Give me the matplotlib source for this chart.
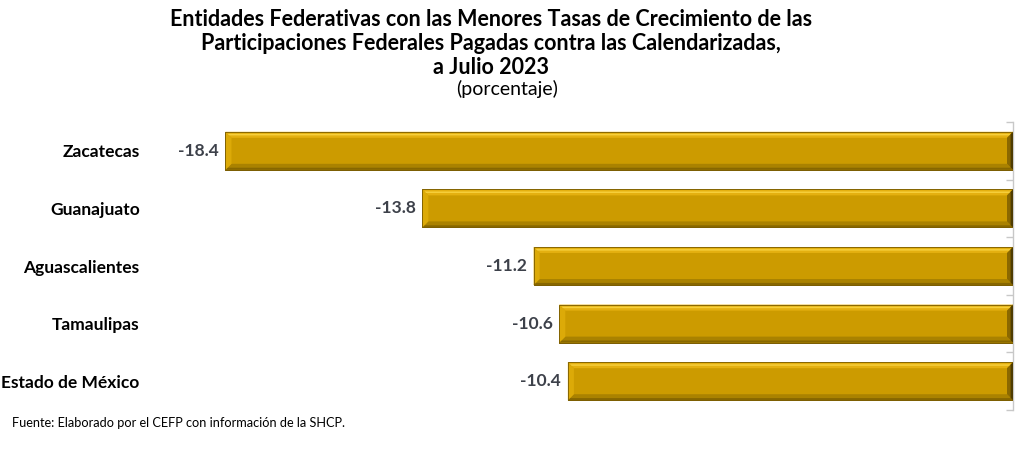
import matplotlib
matplotlib.use("Agg")
import matplotlib.pyplot as plt
from matplotlib.patches import Polygon
import numpy as np

categories = ["Zacatecas", "Guanajuato", "Aguascalientes", "Tamaulipas", "Estado de México"]
values = [-18.4, -13.8, -11.2, -10.6, -10.4]
value_labels = ["-18.4", "-13.8", "-11.2", "-10.6", "-10.4"]

title_lines = ["Entidades Federativas con las Menores Tasas de Crecimiento de las",
               "Participaciones Federales Pagadas contra las Calendarizadas,",
               "a Julio 2023"]
subtitle = "(porcentaje)"
source = "Fuente: Elaborado por el CEFP con información de la SHCP."

FONT = ["Lato", "DejaVu Sans"]
plt.rcParams["font.family"] = FONT

W, H = 1026, 473
fig = plt.figure(figsize=(W / 100, H / 100), dpi=100)
ax_left, ax_right, ax_top, ax_bot = 157, 1013, 122, 410
ax = fig.add_axes([ax_left / W, 1 - ax_bot / H, (ax_right - ax_left) / W, (ax_bot - ax_top) / H])

xmin, xmax = -20, 0
ax.set_xlim(xmin, xmax)
n = len(categories)
ax.set_ylim(n - 0.5, -0.5)
ypos = np.arange(n)
bar_h = 0.66

base = "#CC9B00"
bars = ax.barh(ypos, values, height=bar_h, color=base, edgecolor="#7A5C00", linewidth=0.6, zorder=2)

# bevel sizes in data units
px_x = (xmax - xmin) / (ax_right - ax_left)
px_y = n / (ax_bot - ax_top)
bev = 6
dx, dy = bev * px_x, bev * px_y
for rect in bars:
    x0 = rect.get_x()
    w = rect.get_width()
    xl, xr = min(x0, x0 + w), max(x0, x0 + w)
    yt = rect.get_y()
    yb = yt + rect.get_height()
    ax.add_patch(Polygon([(xl, yt), (xr, yt), (xr - dx, yt + dy), (xl + dx, yt + dy)],
                         closed=True, color="#E4B010", lw=0, zorder=3))
    ax.add_patch(Polygon([(xl + dx * 0.3, yt + dy * 0.35), (xr - dx * 0.3, yt + dy * 0.35),
                          (xr - dx * 0.55, yt + dy * 0.6), (xl + dx * 0.55, yt + dy * 0.6)],
                         closed=True, color="#F6CF3C", lw=0, zorder=3))
    ax.add_patch(Polygon([(xl, yb), (xr, yb), (xr - dx, yb - dy), (xl + dx, yb - dy)],
                         closed=True, color="#AA8200", lw=0, zorder=3))
    ax.add_patch(Polygon([(xl + dx * 0.3, yb - dy * 0.35), (xr - dx * 0.3, yb - dy * 0.35),
                          (xr, yb), (xl, yb)],
                         closed=True, color="#876700", lw=0, zorder=3))
    ax.add_patch(Polygon([(xl, yt), (xl + dx, yt + dy), (xl + dx, yb - dy), (xl, yb)],
                         closed=True, color="#DCAA08", lw=0, zorder=3))
    ax.add_patch(Polygon([(xr, yt), (xr - dx, yt + dy), (xr - dx, yb - dy), (xr, yb)],
                         closed=True, color="#8A6800", lw=0, zorder=3))
    ax.add_patch(Polygon([(xr, yt), (xr - dx * 0.4, yt + dy * 0.4), (xr - dx * 0.4, yb - dy * 0.4), (xr, yb)],
                         closed=True, color="#4E3B00", lw=0, zorder=3))
    ax.add_patch(Polygon([(xl, yt), (xr, yt), (xr, yb), (xl, yb)], closed=True, fill=False,
                         edgecolor="#7A5C00", lw=0.6, zorder=4))

for y, v, lab in zip(ypos, values, value_labels):
    ax.annotate(lab, xy=(v, y), xytext=(-5, 0), textcoords="offset points",
                ha="right", va="center", fontsize=12.5, fontweight="bold", color="#3D414A")

ax.set_yticks(ypos)
ax.set_yticklabels(categories, fontsize=12.5, fontweight="bold", color="black")
ax.tick_params(axis="y", which="major", length=0, pad=12.5)
ax.set_yticks(np.arange(n + 1) - 0.5, minor=True)
ax.tick_params(axis="y", which="minor", left=False, right=True, direction="in", length=5,
               color="#C8C8C8", width=1)
ax.set_xticks([])
for s in ["top", "bottom", "left"]:
    ax.spines[s].set_visible(False)
ax.spines["right"].set_color("#C8C8C8")
ax.spines["right"].set_linewidth(1)
ax.spines["right"].set_zorder(1)

cx = 491 / W
ys = [19, 44, 68]
for line, y in zip(title_lines, ys):
    fig.text(cx, 1 - y / H, line, ha="center", va="center", fontsize=15.5, fontweight="bold", color="black")
fig.text(507 / W, 1 - 89 / H, subtitle, ha="center", va="center", fontsize=14, color="black")
fig.text(12 / W, 1 - 423 / H, source, ha="left", va="center", fontsize=9.2, color="black")

fig.savefig("out.png", dpi=100)
